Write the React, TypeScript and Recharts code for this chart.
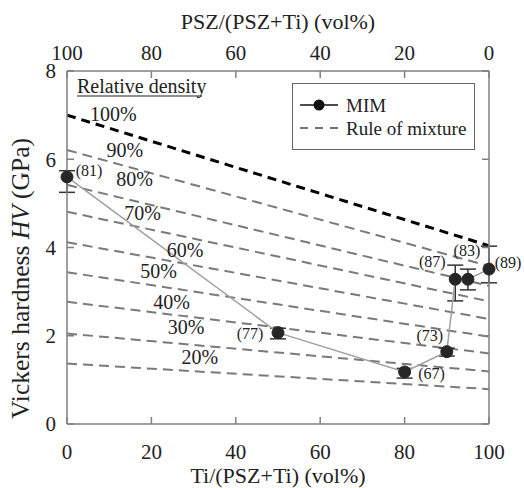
import React from 'react';
import {
  ComposedChart,
  Line,
  XAxis,
  YAxis,
  ErrorBar,
  LabelList,
  ReferenceDot,
  Legend,
} from 'recharts';

// MIM measurements
const tiFraction = [0, 50, 80, 90, 92, 95, 100];
const hardness = [5.6, 2.07, 1.18, 1.64, 3.28, 3.28, 3.51];
const errLow = [0.35, 0.14, 0.14, 0.1, 0.49, 0.24, 0.31];
const errHigh = [0.14, 0.1, 0.08, 0.08, 0.32, 0.23, 0.52];
const relDensity = [81, 77, 67, 73, 87, 83, 89];

// Rule of mixture lines per relative density
const densityLevels = ['100%', '90%', '80%', '70%', '60%', '50%', '40%', '30%', '20%'];
const mixtureAtTi0 = [7.0, 6.21, 5.42, 4.81, 4.12, 3.44, 2.77, 2.05, 1.37];
const mixtureAtTi100 = [4.04, 3.58, 3.13, 2.78, 2.38, 1.98, 1.6, 1.19, 0.79];
const densityLabelX = [11, 13.7, 16, 17.9, 28, 21.7, 24.8, 28.2, 31.5];
const densityLabelY = [7.03, 6.21, 5.55, 4.78, 3.94, 3.47, 2.77, 2.2, 1.51];

const xTicks = [0, 20, 40, 60, 80, 100];
const yTicks = [0, 2, 4, 6, 8];

const FONT = 'Liberation Serif, Times New Roman, serif';
const AXIS_COLOR = '#808080';

const mimData = tiFraction.map((x, i) => ({
  x,
  y: hardness[i],
  err: [errLow[i], errHigh[i]],
  rd: `(${relDensity[i]})`,
}));

const mixtureData = densityLevels.map((_, i) => [
  { x: 0, y: mixtureAtTi0[i] },
  { x: 100, y: mixtureAtTi100[i] },
]);

// label offsets (px) of the relative density annotations around each point
const labelOffsets = [
  [22, -6],
  [-28, 1],
  [27, 2],
  [-17, -16],
  [-23, -18],
  [-1, -29],
  [19, -7],
];

const PointLabel = (props: any) => {
  const { x, y, index, value } = props;
  const [dx, dy] = labelOffsets[index] || [0, 0];
  return (
    <text
      x={x + dx}
      y={y + dy}
      textAnchor="middle"
      dominantBaseline="central"
      fontFamily={FONT}
      fontSize={16}
      fill="#222"
    >
      {value}
    </text>
  );
};

const YTitle = (props: any) => {
  const { viewBox } = props;
  const cx = 20;
  const cy = viewBox.y + viewBox.height / 2 + 31;
  return (
    <text
      x={cx}
      y={cy}
      transform={`rotate(-90 ${cx} ${cy})`}
      textAnchor="middle"
      dominantBaseline="central"
      fontFamily={FONT}
      fontSize={25.5}
      fill="#222"
    >
      Vickers hardness <tspan fontStyle="italic">HV</tspan> (GPa)
    </text>
  );
};

const BottomTitle = (props: any) => {
  const { viewBox } = props;
  return (
    <text
      x={viewBox.x + viewBox.width / 2}
      y={viewBox.y + 59}
      textAnchor="middle"
      fontFamily={FONT}
      fontSize={22}
      fill="#222"
    >
      Ti/(PSZ+Ti) (vol%)
    </text>
  );
};

const TopTitle = (props: any) => {
  const { viewBox } = props;
  return (
    <text
      x={viewBox.x + viewBox.width / 2}
      y={29}
      textAnchor="middle"
      fontFamily={FONT}
      fontSize={22}
      fill="#222"
    >
      PSZ/(PSZ+Ti) (vol%)
    </text>
  );
};

const renderLegend = () => (
  <div
    style={{
      width: 183,
      height: 67,
      boxSizing: 'border-box',
      border: '1.5px solid #666',
      background: '#fff',
      fontFamily: FONT,
    }}
  >
    <svg width={180} height={64} style={{ display: 'block' }}>
      <line x1={7} x2={45} y1={21} y2={21} stroke="#111" strokeWidth={1.5} />
      <circle cx={26} cy={21} r={5.5} fill="#111" />
      <text x={53} y={21} dominantBaseline="central" fontSize={19} fontFamily={FONT} fill="#222">
        MIM
      </text>
      <line x1={7} x2={45} y1={44} y2={44} stroke="#444" strokeWidth={1.3} strokeDasharray="8 7" />
      <text x={53} y={44} dominantBaseline="central" fontSize={19} fontFamily={FONT} fill="#222">
        Rule of mixture
      </text>
    </svg>
  </div>
);

const tickStyle = { fontFamily: FONT, fontSize: 21, fill: '#222' };

export default function App() {
  return (
    <div style={{ position: 'absolute', left: 0, top: 0, width: 524, height: 488, background: '#fff' }}>
      <ComposedChart
        width={524}
        height={488}
        margin={{ top: 0, right: 30, bottom: 0, left: 0 }}
      >
        <XAxis
          dataKey="x"
          type="number"
          domain={[0, 100]}
          ticks={xTicks}
          interval={0}
          height={64}
          tickSize={-7}
          tickMargin={27}
          tick={tickStyle}
          axisLine={{ stroke: AXIS_COLOR, strokeWidth: 1.5 }}
          tickLine={{ stroke: AXIS_COLOR, strokeWidth: 1.5 }}
          label={<BottomTitle />}
        />
        <XAxis
          xAxisId="top"
          dataKey="x"
          orientation="top"
          type="number"
          domain={[0, 100]}
          allowDataOverflow
          ticks={xTicks}
          interval={0}
          height={71}
          tickSize={-7}
          tickMargin={18}
          tick={tickStyle}
          tickFormatter={(v: number) => String(100 - v)}
          axisLine={{ stroke: AXIS_COLOR, strokeWidth: 1.5 }}
          tickLine={{ stroke: AXIS_COLOR, strokeWidth: 1.5 }}
          label={<TopTitle />}
        />
        <YAxis
          type="number"
          domain={[0, 8]}
          ticks={yTicks}
          interval={0}
          width={67}
          tickSize={-7}
          tickMargin={18}
          tick={tickStyle}
          axisLine={{ stroke: AXIS_COLOR, strokeWidth: 1.5 }}
          tickLine={{ stroke: AXIS_COLOR, strokeWidth: 1.5 }}
          label={<YTitle />}
        />
        <YAxis
          yAxisId="right"
          orientation="right"
          type="number"
          domain={[0, 8]}
          allowDataOverflow
          ticks={yTicks}
          interval={0}
          width={5}
          tickSize={-7}
          tickFormatter={() => ''}
          axisLine={{ stroke: AXIS_COLOR, strokeWidth: 1.5 }}
          tickLine={{ stroke: AXIS_COLOR, strokeWidth: 1.5 }}
        />
        <Legend
          layout="horizontal"
          verticalAlign="middle"
          align="center"
          content={renderLegend}
          wrapperStyle={{ left: 292, top: 83, width: 183, height: 67 }}
        />
        {mixtureData.map((d, i) => (
          <Line
            key={densityLevels[i]}
            data={d}
            dataKey="y"
            xAxisId={i === 0 ? 'top' : 0}
            yAxisId={i === 1 ? 'right' : 0}
            type="linear"
            stroke={i === 0 ? '#000' : '#7a7a7a'}
            strokeWidth={i === 0 ? 3 : 2}
            strokeDasharray={i === 0 ? '9 6' : '10 6'}
            dot={false}
            activeDot={false}
            legendType="none"
            isAnimationActive={false}
          />
        ))}
        {densityLevels.map((lbl, i) => (
          <ReferenceDot
            key={`lbl-${lbl}`}
            x={densityLabelX[i]}
            y={densityLabelY[i]}
            r={0}
            fill="none"
            stroke="none"
            label={{
              value: lbl,
              position: 'center',
              fontFamily: FONT,
              fontSize: 20,
              fill: '#222',
            }}
          />
        ))}
        <ReferenceDot
          x={0}
          y={8}
          r={0}
          fill="none"
          stroke="none"
          label={(p: any) => {
            const { viewBox } = p;
            const x0 = viewBox.x + 10;
            const y0 = viewBox.y + 22;
            return (
              <g>
                <text x={x0} y={y0} fontFamily={FONT} fontSize={20} fill="#222">
                  Relative density
                </text>
                <line x1={x0} x2={x0 + 125} y1={y0 + 3} y2={y0 + 3} stroke="#222" strokeWidth={1.2} />
              </g>
            );
          }}
        />
        <Line
          data={mimData}
          dataKey="y"
          type="linear"
          stroke="#a0a0a0"
          strokeWidth={1.5}
          dot={{ r: 6, fill: '#262626', stroke: '#262626', strokeWidth: 1 }}
          activeDot={false}
          isAnimationActive={false}
        >
          <ErrorBar dataKey="err" direction="y" width={8} stroke="#333" strokeWidth={1.5} />
          <LabelList dataKey="rd" content={<PointLabel />} />
        </Line>
      </ComposedChart>
    </div>
  );
}
